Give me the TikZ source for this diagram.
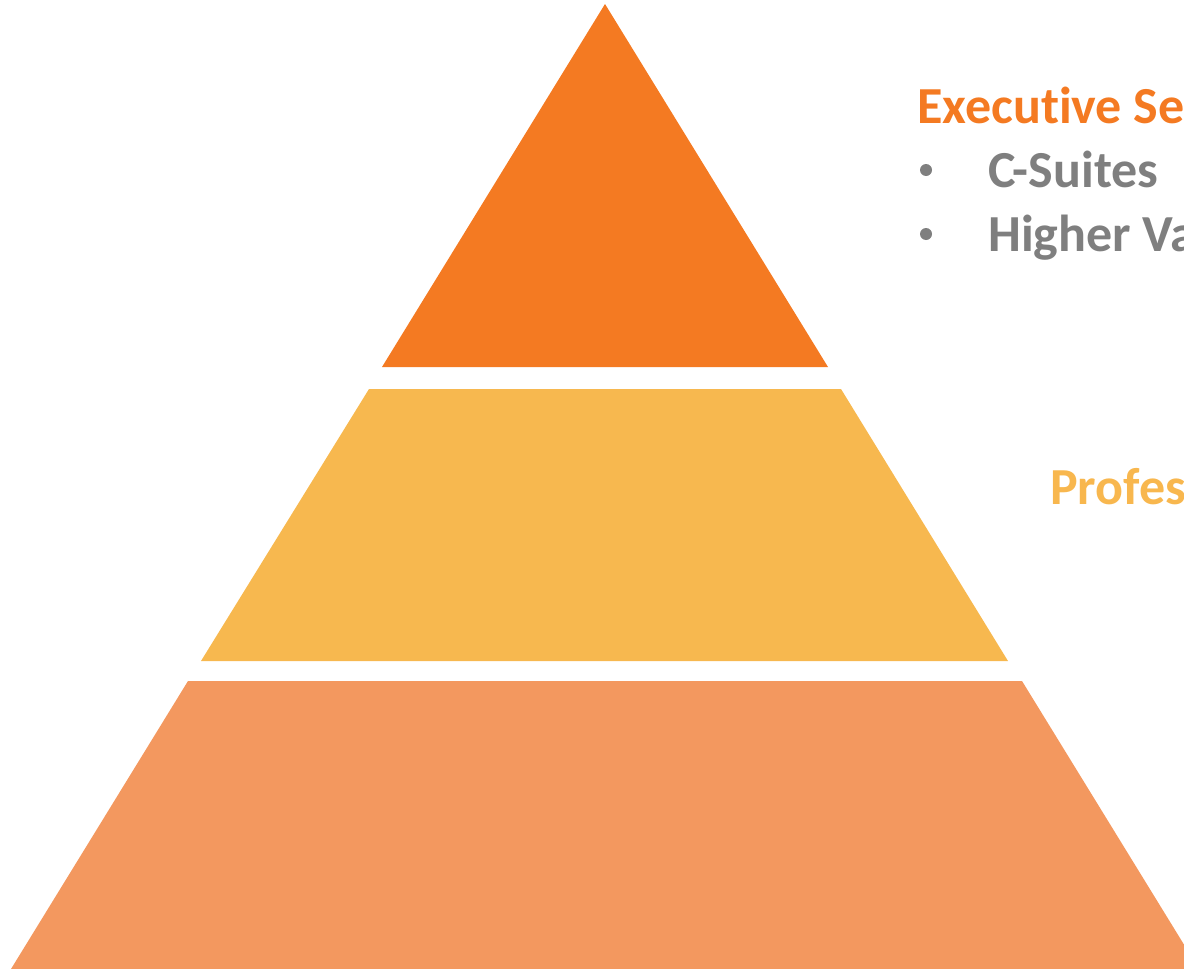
\documentclass[tikz,border=0pt]{standalone}
\usepackage{fontspec}
\setmainfont{Carlito}[Ligatures={NoCommon}]
\definecolor{tierTop}{HTML}{F47A22}
\definecolor{tierMid}{HTML}{F7B84F}
\definecolor{tierLow}{HTML}{F3985F}
\definecolor{headOrange}{HTML}{F47A22}
\definecolor{headGold}{HTML}{F8B74E}
\definecolor{bodyGray}{HTML}{7F7F7F}
\begin{document}
\begin{tikzpicture}[x=1pt,y=-1pt,
  tier/.style={draw=none},
  heading/.style={anchor=base west,inner sep=0pt,font=\fontsize{52}{62}\selectfont\bfseries},
  bullettext/.style={anchor=base west,inner sep=0pt,text=bodyGray,font=\fontsize{52}{62}\selectfont\bfseries},
  dot/.style={circle,fill=bodyGray,inner sep=0pt,minimum size=12pt}]
\useasboundingbox (0,0) rectangle (1184,969);
\clip (0,0) rectangle (1184,969);
% three tiers of one triangle, apex (605,4), separated by white gaps
\fill[tier,fill=tierTop] (605,4) -- (828,367) -- (382,367) -- cycle;
\fill[tier,fill=tierMid] (369,389) -- (841,389) -- (1008,661) -- (201,661) -- cycle;
\fill[tier,fill=tierLow] (188,681) -- (1022,681) -- (1199,969) -- (11,969) -- cycle;
% labels
\node[heading,text=headOrange] (exec) at (917,123) {Executive Se};
\node[dot] (b1) at (926,170) {};
\node[bullettext] (csuites) at (988,187) {C-Suites};
\node[dot] (b2) at (926,234) {};
\node[bullettext] (higher) at (988,251) {Higher Va};
\node[heading,text=headGold] (prof) at (1050,504) {Profes};
\end{tikzpicture}
\end{document}
